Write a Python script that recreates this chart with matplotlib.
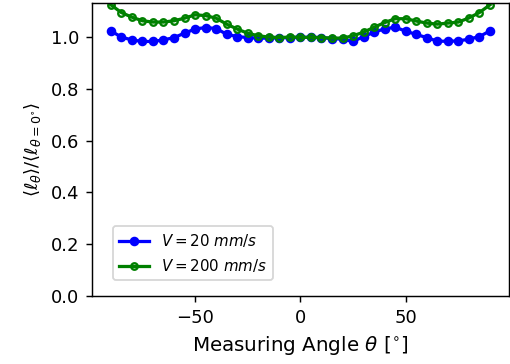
import matplotlib
matplotlib.use("Agg")
import matplotlib.pyplot as plt
import numpy as np

# measuring angles in degrees
angles = np.arange(-90, 95, 5)

# normalised mean length, V = 20 mm/s
ratio_v20 = [1.025, 1.001, 0.990, 0.984, 0.984, 0.990, 0.999, 1.016, 1.032, 1.038,
             1.034, 1.012, 1.003, 0.999, 0.997, 0.997, 0.998, 0.999, 1.000,
             1.000, 0.999, 0.995, 0.993, 0.984, 1.003, 1.020, 1.033, 1.039,
             1.024, 1.011, 0.999, 0.985, 0.985, 0.986, 0.993, 1.003, 1.025]

# normalised mean length, V = 200 mm/s
ratio_v200 = [1.126, 1.096, 1.078, 1.064, 1.059, 1.059, 1.064, 1.074, 1.087, 1.084,
              1.074, 1.051, 1.032, 1.016, 1.006, 1.001, 0.999, 1.001, 1.000,
              1.000, 0.999, 0.997, 0.997, 1.006, 1.020, 1.039, 1.057, 1.072,
              1.072, 1.063, 1.055, 1.051, 1.055, 1.059, 1.075, 1.096, 1.126]

labels = [r'$V = 20\ mm/s$', r'$V = 200\ mm/s$']

fig = plt.figure(figsize=(510 / 130, 364 / 130), dpi=130)
ax = fig.add_axes([0.180, 0.187, 0.818, 0.805])

ax.plot(angles, ratio_v20, '-o', color='blue', lw=1.8, ms=4.3, label=labels[0])
ax.plot(angles, ratio_v200, '-o', color='green', lw=1.8, ms=3.6,
        mfc='none', mew=1.3, label=labels[1])

ax.set_ylim(bottom=0)
ax.set_xlabel(r'Measuring Angle $\theta$ [$^{\circ}$]', fontsize=11)
ax.set_ylabel(r'$\langle \ell_\theta \rangle / \langle \ell_{\theta=0^{\circ}} \rangle$')

ax.legend(loc='lower left', bbox_to_anchor=(0.05, 0.055), borderaxespad=0,
          fontsize='small')

fig.savefig('out.png', dpi=130)
